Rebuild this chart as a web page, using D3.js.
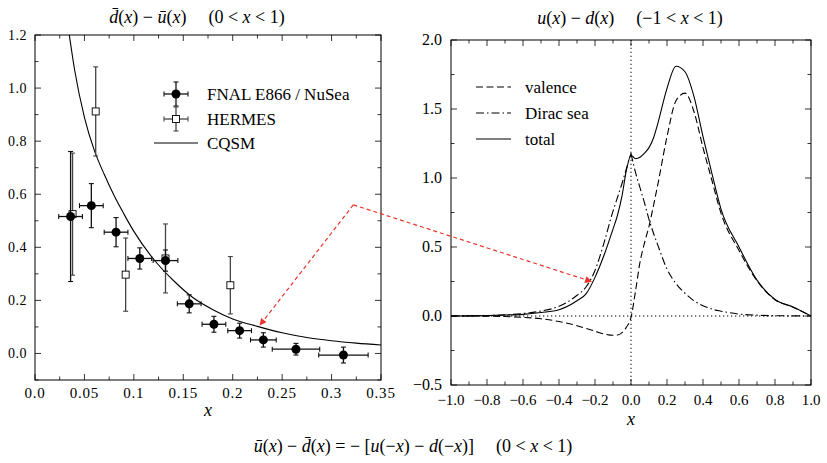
<!DOCTYPE html>
<html>
<head>
<meta charset="utf-8">
<script src="https://cdn.jsdelivr.net/npm/d3@7"></script>
<style>
  body { margin: 0; background: #fff; }
</style>
</head>
<body>
<script>
// left panel data: dbar - ubar
const fnalX    = [0.036, 0.057, 0.082, 0.106, 0.132, 0.156, 0.181, 0.207, 0.231, 0.264, 0.312];
const fnalY    = [0.516, 0.557, 0.457, 0.358, 0.350, 0.187, 0.110, 0.086, 0.051, 0.016, -0.006];
const fnalXErr = [0.012, 0.012, 0.012, 0.012, 0.0125, 0.012, 0.012, 0.012, 0.013, 0.024, 0.025];
const fnalYErr = [0.245, 0.083, 0.055, 0.040, 0.040, 0.034, 0.030, 0.028, 0.027, 0.022, 0.030];

const hermesX    = [0.038, 0.0614, 0.0917, 0.132, 0.1976];
const hermesY    = [0.525, 0.912, 0.297, 0.358, 0.257];
const hermesYErr = [0.230, 0.168, 0.138, 0.130, 0.108];

const cqsmX = [0.0347, 0.04, 0.05, 0.06, 0.07, 0.08, 0.09, 0.10, 0.12, 0.14, 0.16, 0.18, 0.20, 0.225, 0.25, 0.275, 0.30, 0.325, 0.35];
const cqsmY = [1.20, 1.07, 0.89, 0.765, 0.675, 0.595, 0.525, 0.46, 0.355, 0.275, 0.21, 0.165, 0.13, 0.102, 0.078, 0.06, 0.048, 0.039, 0.032];

const leftXTicks = [0, 0.05, 0.1, 0.15, 0.2, 0.25, 0.3, 0.35];
const leftXTickLabels = ["0.0", "0.05", "0.1", "0.15", "0.2", "0.25", "0.3", "0.35"];
const leftYTicks = [0, 0.2, 0.4, 0.6, 0.8, 1.0, 1.2];
const leftYTickLabels = ["0.0", "0.2", "0.4", "0.6", "0.8", "1.0", "1.2"];

// right panel data: u - d
const rightX  = [-1, -0.9, -0.8, -0.7, -0.6, -0.5, -0.4, -0.3, -0.25, -0.2, -0.15, -0.1, -0.075, -0.05, -0.025, 0,
                 0.025, 0.05, 0.075, 0.1, 0.125, 0.15, 0.2, 0.25, 0.3, 0.35, 0.4, 0.45, 0.5, 0.6, 0.7, 0.8, 0.9, 1.0];
const valence = [0, 0, -0.001, -0.004, -0.01, -0.02, -0.04, -0.07, -0.09, -0.11, -0.13, -0.14, -0.138, -0.12, -0.08, -0.01,
                 0.18, 0.39, 0.53, 0.65, 0.80, 0.96, 1.30, 1.56, 1.615, 1.48, 1.22, 0.98, 0.745, 0.475, 0.255, 0.118, 0.064, 0];
const dirac   = [0, 0.001, 0.003, 0.008, 0.018, 0.036, 0.07, 0.15, 0.21, 0.33, 0.53, 0.76, 0.86, 0.96, 1.07, 1.178,
                 1.04, 0.93, 0.82, 0.70, 0.60, 0.51, 0.34, 0.235, 0.165, 0.11, 0.075, 0.05, 0.035, 0.014, 0.006, 0.002, 0.001, 0];
const total   = [0, 0.001, 0.003, 0.007, 0.012, 0.025, 0.045, 0.11, 0.16, 0.28, 0.44, 0.63, 0.73, 0.87, 1.06, 1.165,
                 1.14, 1.15, 1.18, 1.22, 1.29, 1.40, 1.65, 1.81, 1.77, 1.59, 1.30, 1.03, 0.775, 0.50, 0.26, 0.12, 0.065, 0];

const rightXTicks = [-1, -0.8, -0.6, -0.4, -0.2, 0, 0.2, 0.4, 0.6, 0.8, 1.0];
const rightXTickLabels = ["\u22121.0", "\u22120.8", "\u22120.6", "\u22120.4", "\u22120.2", "0.0", "0.2", "0.4", "0.6", "0.8", "1.0"];
const rightYTicks = [-0.5, 0, 0.5, 1.0, 1.5, 2.0];
const rightYTickLabels = ["\u22120.5", "0.0", "0.5", "1.0", "1.5", "2.0"];

// annotation: arrow from a common point to both panels
const arrowStart = [0.322, 0.56];     // left-panel coords
const arrowLeftTip = [0.2276, 0.107]; // left-panel coords
const arrowRightTip = [-0.22, 0.25];  // right-panel coords

const FONT = "Liberation Serif";

const svg = d3.select("body").append("svg")
    .attr("width", 827)
    .attr("height", 463)
    .attr("font-family", FONT);

const xL = d3.scaleLinear().domain([0, 0.35]).range([35, 381]);
const yL = d3.scaleLinear().domain([-0.1, 1.2]).range([380, 35]);
const xR = d3.scaleLinear().domain([-1, 1]).range([451, 811]);
const yR = d3.scaleLinear().domain([-0.5, 2.0]).range([385, 40]);

function range(a, b, step) {
    const out = [];
    for (let v = a; v <= b + 1e-9; v += step) out.push(+v.toFixed(4));
    return out;
}

// box with inward ticks on all four sides
function frame(g, xs, ys, xMaj, xMin, yMaj, yMin) {
    const [x0, x1] = xs.range();
    const [y1, y0] = ys.range();
    const tk = g.append("g").attr("stroke", "#000").attr("stroke-width", 0.8);
    xMin.forEach(v => {
        const len = xMaj.some(m => Math.abs(m - v) < 1e-6) ? 6 : 3.5;
        tk.append("line").attr("x1", xs(v)).attr("x2", xs(v)).attr("y1", y1).attr("y2", y1 - len);
        tk.append("line").attr("x1", xs(v)).attr("x2", xs(v)).attr("y1", y0).attr("y2", y0 + len);
    });
    yMin.forEach(v => {
        const len = yMaj.some(m => Math.abs(m - v) < 1e-6) ? 6 : 3.5;
        tk.append("line").attr("y1", ys(v)).attr("y2", ys(v)).attr("x1", x0).attr("x2", x0 + len);
        tk.append("line").attr("y1", ys(v)).attr("y2", ys(v)).attr("x1", x1).attr("x2", x1 - len);
    });
    g.append("rect")
        .attr("x", x0).attr("y", y0)
        .attr("width", x1 - x0).attr("height", y1 - y0)
        .attr("fill", "none").attr("stroke", "#000").attr("stroke-width", 1);
}

//左图
const gl = svg.append("g");
frame(gl, xL, yL, leftXTicks, range(0, 0.35, 0.025), leftYTicks, range(-0.1, 1.2, 0.1));

gl.append("g").selectAll("text")
    .data(leftXTicks)
    .enter().append("text")
    .attr("x", (d) => xL(d))
    .attr("y", 398)
    .attr("text-anchor", "middle")
    .attr("font-family", FONT)
    .attr("font-size", 15)
    .attr("letter-spacing", 0.8)
    .text((d, i) => leftXTickLabels[i]);

gl.append("g").selectAll("text")
    .data(leftYTicks)
    .enter().append("text")
    .attr("x", 27)
    .attr("y", (d) => yL(d) + 4.5)
    .attr("text-anchor", "end")
    .attr("font-family", FONT)
    .attr("font-size", 14)
    .attr("letter-spacing", 0.5)
    .text((d, i) => leftYTickLabels[i]);

// CQSM curve
const cqsm = cqsmX.map((x, i) => [x, cqsmY[i]]);
gl.append("path")
    .attr("d", d3.line().x(d => xL(d[0])).y(d => yL(d[1])).curve(d3.curveMonotoneX)(cqsm))
    .attr("fill", "none")
    .attr("stroke", "#000")
    .attr("stroke-width", 1.1);

// error bars
function errBar(g, x1, y1, x2, y2, color, vertical) {
    g.append("line").attr("x1", x1).attr("y1", y1).attr("x2", x2).attr("y2", y2)
        .attr("stroke", color).attr("stroke-width", 1.3);
    const c = 2.5;
    [[x1, y1], [x2, y2]].forEach(([px, py]) => {
        if (vertical) g.append("line").attr("x1", px - c).attr("x2", px + c).attr("y1", py).attr("y2", py)
            .attr("stroke", color).attr("stroke-width", 1.1);
        else g.append("line").attr("x1", px).attr("x2", px).attr("y1", py - c).attr("y2", py + c)
            .attr("stroke", color).attr("stroke-width", 1.1);
    });
}

const eh = gl.append("g");
hermesX.forEach((x, i) => {
    errBar(eh, xL(x), yL(hermesY[i] - hermesYErr[i]), xL(x), yL(hermesY[i] + hermesYErr[i]), "#444", true);
});
hermesX.forEach((x, i) => {
    eh.append("rect")
        .attr("x", xL(x) - 3.5).attr("y", yL(hermesY[i]) - 3.5)
        .attr("width", 7).attr("height", 7)
        .attr("fill", "#fff").attr("stroke", "#000").attr("stroke-width", 0.9);
});

const ef = gl.append("g");
fnalX.forEach((x, i) => {
    errBar(ef, xL(x - fnalXErr[i]), yL(fnalY[i]), xL(x + fnalXErr[i]), yL(fnalY[i]), "#111", false);
    errBar(ef, xL(x), yL(fnalY[i] - fnalYErr[i]), xL(x), yL(fnalY[i] + fnalYErr[i]), "#111", true);
});
ef.selectAll("circle")
    .data(fnalX)
    .enter().append("circle")
    .attr("cx", (d) => xL(d))
    .attr("cy", (d, i) => yL(fnalY[i]))
    .attr("r", 4.5)
    .attr("fill", "#000");

// left legend
const lg = gl.append("g").attr("font-size", 17).attr("font-family", FONT);
errBar(lg, 164, 94, 188, 94, "#111", false);
errBar(lg, 176, 82, 176, 106, "#111", true);
lg.append("circle").attr("cx", 176).attr("cy", 94).attr("r", 4.5);
errBar(lg, 164, 119, 188, 119, "#444", false);
errBar(lg, 176, 107, 176, 131, "#444", true);
lg.append("rect").attr("x", 172.5).attr("y", 115.5).attr("width", 7).attr("height", 7)
    .attr("fill", "#fff").attr("stroke", "#000").attr("stroke-width", 0.9);
lg.append("line").attr("x1", 154).attr("x2", 198).attr("y1", 143).attr("y2", 143)
    .attr("stroke", "#000").attr("stroke-width", 1.1);
lg.append("text").attr("x", 207).attr("y", 100).text("FNAL E866 / NuSea");
lg.append("text").attr("x", 207).attr("y", 125).text("HERMES");
lg.append("text").attr("x", 207).attr("y", 149).text("CQSM");

// math text helper: pieces of [text, italic, dx]
function mathText(x, y, pieces) {
    const t = svg.append("text").attr("x", x).attr("y", y)
        .attr("text-anchor", "middle").attr("font-size", 18).attr("font-family", FONT);
    pieces.forEach(([s, it, dx]) => {
        const sp = t.append("tspan").attr("font-style", it ? "italic" : "normal").text(s);
        if (dx) sp.attr("dx", dx);
    });
    return t;
}

mathText(197, 23, [["d\u0304", 1], ["(", 0], ["x", 1], [") \u2212 ", 0], ["u\u0304", 1], ["(", 0], ["x", 1], [")", 0],
    ["(0 < ", 0, 22], ["x", 1], [" < 1)", 0]]);
mathText(208, 416, [["x", 1]]);

//右图
const gr = svg.append("g");
frame(gr, xR, yR, rightXTicks, range(-1, 1, 0.1), rightYTicks, range(-0.5, 2.0, 0.25));

gr.append("line").attr("x1", xR(-1)).attr("x2", xR(1)).attr("y1", yR(0)).attr("y2", yR(0))
    .attr("stroke", "#000").attr("stroke-width", 1).attr("stroke-dasharray", "1.3,2.7");
gr.append("line").attr("x1", xR(0)).attr("x2", xR(0)).attr("y1", yR(-0.5)).attr("y2", yR(2.0))
    .attr("stroke", "#000").attr("stroke-width", 1).attr("stroke-dasharray", "1.3,2.7");

gr.append("g").selectAll("text")
    .data(rightXTicks)
    .enter().append("text")
    .attr("x", (d) => xR(d))
    .attr("y", 405)
    .attr("text-anchor", "middle")
    .attr("font-family", FONT)
    .attr("font-size", 15)
    .text((d, i) => rightXTickLabels[i]);

gr.append("g").selectAll("text")
    .data(rightYTicks)
    .enter().append("text")
    .attr("x", 442)
    .attr("y", (d) => yR(d) + 5)
    .attr("text-anchor", "end")
    .attr("font-family", FONT)
    .attr("font-size", 16)
    .text((d, i) => rightYTickLabels[i]);

const line = d3.line().x(d => xR(d[0])).y(d => yR(d[1])).curve(d3.curveMonotoneX);
const curves = [
    { name: "valence", y: valence, dash: "7,3.5", cusp: false },
    { name: "Dirac sea", y: dirac, dash: "8,3,1.5,3", cusp: true },
    { name: "total", y: total, dash: null, cusp: false }
];
curves.forEach((c) => {
    const pts = rightX.map((x, i) => [x, c.y[i]]);
    // Dirac sea has a sharp peak at x = 0: draw each side on its own
    const parts = c.cusp ? [pts.filter(p => p[0] <= 0), pts.filter(p => p[0] >= 0)] : [pts];
    parts.forEach((p) => {
        gr.append("path")
            .attr("d", line(p))
            .attr("fill", "none")
            .attr("stroke", "#000")
            .attr("stroke-width", 1.1)
            .attr("stroke-dasharray", c.dash);
    });
});

// right legend
const rg = gr.append("g").attr("font-size", 17).attr("font-family", FONT);
curves.forEach((c, i) => {
    const y = 87 + i * 26;
    rg.append("line").attr("x1", 476).attr("x2", 511).attr("y1", y).attr("y2", y)
        .attr("stroke", "#000").attr("stroke-width", 1.1).attr("stroke-dasharray", c.dash);
    rg.append("text").attr("x", 525).attr("y", y + 5.5).text(c.name);
});

mathText(630, 24, [["u", 1], ["(", 0], ["x", 1], [") \u2212 ", 0], ["d", 1], ["(", 0], ["x", 1], [")", 0],
    ["(\u22121 < ", 0, 22], ["x", 1], [" < 1)", 0]]);
mathText(631, 425, [["x", 1]]);

// bottom formula
mathText(413, 452, [["u\u0304", 1], ["(", 0], ["x", 1], [") \u2212 ", 0], ["d\u0304", 1], ["(", 0], ["x", 1], [") = \u2212 [", 0],
    ["u", 1], ["(\u2212", 0], ["x", 1], [") \u2212 ", 0], ["d", 1], ["(\u2212", 0], ["x", 1], [")]", 0],
    ["(0 < ", 0, 22], ["x", 1], [" < 1)", 0]]);

// red arrows
const red = "#e8352b";
svg.append("defs").append("marker")
    .attr("id", "head")
    .attr("viewBox", "0 0 10 10")
    .attr("refX", 9).attr("refY", 5)
    .attr("markerWidth", 9).attr("markerHeight", 7)
    .attr("markerUnits", "userSpaceOnUse")
    .attr("orient", "auto")
    .append("path").attr("d", "M0,0L10,5L0,10Z").attr("fill", red);
const sx = xL(arrowStart[0]), sy = yL(arrowStart[1]);
[[xL(arrowLeftTip[0]), yL(arrowLeftTip[1])], [xR(arrowRightTip[0]), yR(arrowRightTip[1])]].forEach(([tx, ty]) => {
    svg.append("line")
        .attr("x1", sx).attr("y1", sy).attr("x2", tx).attr("y2", ty)
        .attr("stroke", red).attr("stroke-width", 1.2)
        .attr("stroke-dasharray", "4,3")
        .attr("marker-end", "url(#head)");
});
</script>
</body>
</html>
